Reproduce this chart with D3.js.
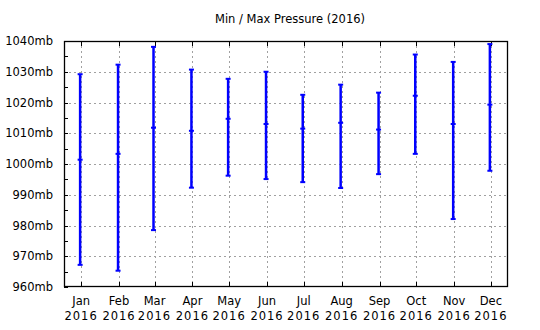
<!DOCTYPE html>
<html><head><meta charset="utf-8">
<script src="https://cdn.jsdelivr.net/npm/d3@7"></script>
<style>body{margin:0;background:#fff}svg{display:block}</style>
</head><body><div id="c"></div>
<script>
const months = ["Jan","Feb","Mar","Apr","May","Jun","Jul","Aug","Sep","Oct","Nov","Dec"];
const year = "2016";
const maxP = [1029.2,1032.3,1038.1,1030.7,1027.7,1030.0,1022.5,1025.8,1023.2,1035.6,1033.2,1039.0];
const meanP = [1001.4,1003.3,1011.8,1010.8,1014.7,1013.0,1011.5,1013.4,1011.2,1022.2,1013.0,1019.3];
const minP = [967.2,965.3,978.5,992.3,996.2,995.1,994.1,992.2,996.7,1003.3,982.1,997.8];
const yTicks = [960,970,980,990,1000,1010,1020,1030,1040];
const title = "Min / Max Pressure (2016)";

const W=540,H=330, L=64,R=508,T=41,B=287;
const svg=d3.select("#c").append("svg").attr("width",W).attr("height",H);
const font="DejaVu Sans";
const dates=months.map((m,i)=>new Date(2016,i,1));
const x=d3.scaleTime().domain([new Date(2015,11,18),new Date(2016,11,15)]).range([L,R]);
const y=d3.scaleLinear().domain([960,1040]).range([B,T]);

svg.append("text").attr("x",290).attr("y",23).attr("text-anchor","middle")
  .attr("font-family",font).attr("font-size",11.5).text(title);

// gridlines
const g=svg.append("g").attr("stroke","#a0a0a0").attr("stroke-width",1).attr("stroke-dasharray","2,3");
yTicks.slice(1,-1).forEach(v=>g.append("line").attr("x1",L).attr("x2",R).attr("y1",Math.round(y(v))+0.5).attr("y2",Math.round(y(v))+0.5));
dates.forEach(d=>g.append("line").attr("x1",Math.round(x(d))+0.5).attr("x2",Math.round(x(d))+0.5).attr("y1",T).attr("y2",B));

// ticks
const tk=svg.append("g").attr("stroke","#000").attr("stroke-width",1);
d3.range(960,1041,5).forEach(v=>{const yy=Math.round(y(v))+0.5;tk.append("line").attr("x1",L).attr("x2",L+4).attr("y1",yy).attr("y2",yy);});
dates.forEach(d=>{const xx=Math.round(x(d))+0.5;
  tk.append("line").attr("x1",xx).attr("x2",xx).attr("y1",T).attr("y2",T+5);
  tk.append("line").attr("x1",xx).attr("x2",xx).attr("y1",B).attr("y2",B-5);});

// frame
svg.append("rect").attr("x",L+0.5).attr("y",T+0.5).attr("width",R-L-1).attr("height",B-T-1)
  .attr("fill","none").attr("stroke","#000").attr("stroke-width",1.3);

// y labels
yTicks.forEach(v=>svg.append("text").attr("x",53).attr("y",y(v)+4).attr("text-anchor","end")
  .attr("font-family",font).attr("font-size",11.5).text(v+"mb"));
// x labels
dates.forEach((d,i)=>{
  svg.append("text").attr("x",x(d)).attr("y",305).attr("text-anchor","middle").attr("font-family",font).attr("font-size",11.5).text(months[i]);
  svg.append("text").attr("x",x(d)).attr("y",320).attr("text-anchor","middle").attr("font-family",font).attr("font-size",11.5).attr("letter-spacing","1").text(year);
});

// error bars
const eb=svg.append("g").attr("stroke","#0000ff").attr("stroke-width",2.5);
dates.forEach((d,i)=>{
  const xx=x(d)-1;
  eb.append("line").attr("x1",xx).attr("x2",xx).attr("y1",y(maxP[i])).attr("y2",y(minP[i]));
  [maxP[i],minP[i],meanP[i]].forEach(v=>eb.append("line").attr("x1",xx-2.5).attr("x2",xx+2.5).attr("y1",y(v)).attr("y2",y(v)).attr("stroke-width",2));
});
</script></body></html>
